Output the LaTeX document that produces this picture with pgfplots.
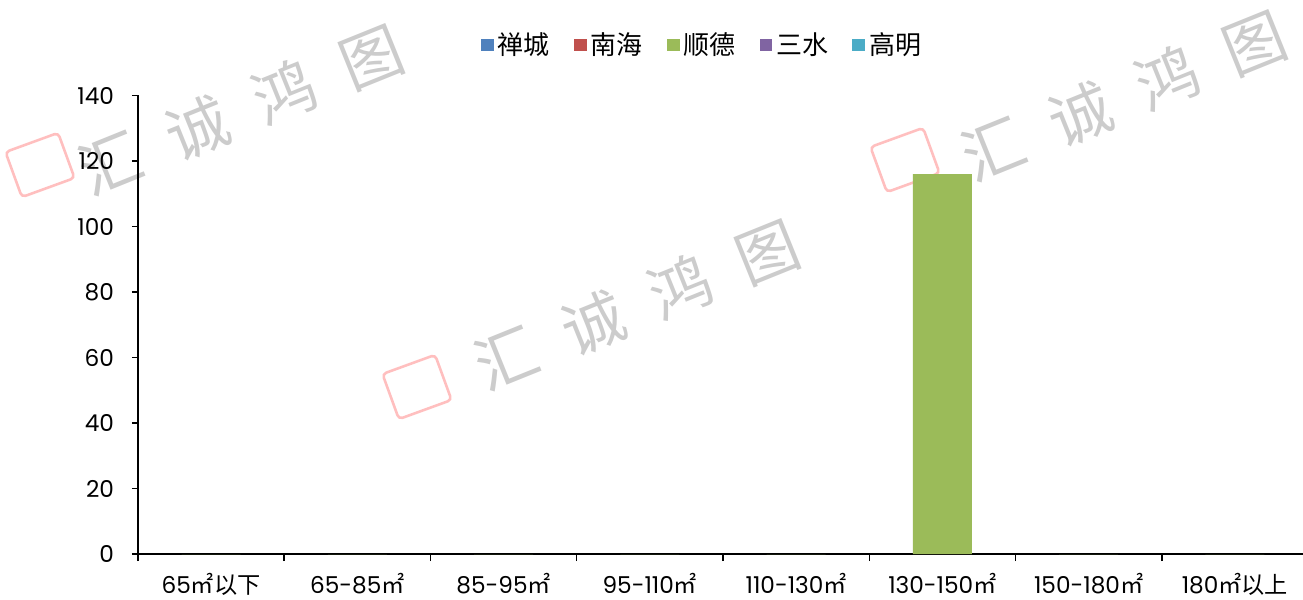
\documentclass[border=0pt]{standalone}
\usepackage{fontspec}
\setmainfont{Poppins}
\newfontfamily\cjk{Noto Sans CJK SC}
\usepackage{pgfplots}
\pgfplotsset{compat=1.18}
\definecolor{c1}{HTML}{4F81BD}
\definecolor{c2}{HTML}{C0504D}
\definecolor{c3}{HTML}{9BBB59}
\definecolor{c4}{HTML}{8064A2}
\definecolor{c5}{HTML}{4BACC6}
\newcommand\zh[1]{{\cjk #1}}
\pgfplotsset{sq/.style={legend image code/.code={\fill[##1] (0pt,-3.2pt) rectangle (6.4pt,3.2pt);}}}
\begin{document}
\begin{tikzpicture}
\path[use as bounding box] (-69pt,-23pt) rectangle (582.5pt,277pt);
% watermarks
\begin{scope}[every node/.style={text=black!20, font=\cjk\fontsize{31}{31}\selectfont, rotate=22, inner sep=0pt}]
\node at (249.5pt,124.5pt) {汇\hspace{16pt}诚\hspace{16pt}鸿\hspace{16pt}图};
\node at (51.5pt,222pt) {汇\hspace{16pt}诚\hspace{16pt}鸿\hspace{16pt}图};
\node at (493pt,229pt) {汇\hspace{16pt}诚\hspace{16pt}鸿\hspace{16pt}图};
\end{scope}
\foreach \lx/\ly in {139.5/83.5, -49/194.5, 383.5/197}{
  \draw[red!25, line width=1.3pt, rounded corners=2pt, rotate around={20:(\lx pt,\ly pt)}] (\lx pt-14pt,\ly pt-12pt) rectangle (\lx pt+14pt,\ly pt+12pt);
}
\begin{axis}[
  at={(0,0)}, anchor=south west,
  scale only axis, width=585pt, height=229.25pt,
  xmin=-0.5, xmax=7.5, ymin=0, ymax=140,
  axis lines*=left,
  axis line style={black, line width=0.75pt},
  xtick={0,...,7},
  xticklabels={65\zh{㎡以下}, 65-85\zh{㎡}, 85-95\zh{㎡}, 95-110\zh{㎡}, 110-130\zh{㎡}, 130-150\zh{㎡}, 150-180\zh{㎡}, 180\zh{㎡以上}},
  major x tick style={draw=none},
  minor xtick={-0.5,0.5,...,7.5},
  ytick={0,20,...,140},
  tick align=outside,
  major tick length=3pt, minor tick length=3.5pt,
  every tick/.style={black, line width=0.75pt},
  ticklabel style={font=\fontsize{11.6}{13}\selectfont},
  /pgf/number format/assume math mode=true,
  xticklabel style={anchor=base, yshift=-16.5pt, inner sep=0pt},
  yticklabel style={anchor=east, xshift=-5.5pt},
  legend style={at={(0.483,1.110)}, anchor=center, draw=none, fill=none,
    font=\cjk\fontsize{13}{15}\selectfont, legend columns=-1,
    /tikz/every even column/.append style={column sep=10pt}},
]
\addlegendimage{fill=c1, draw=none, sq}
\addlegendentry{禅城}
\addlegendimage{fill=c2, draw=none, sq}
\addlegendentry{南海}
\addplot[ybar, bar width=0.403, fill=c3, draw=none, sq] coordinates {(0,0) (1,0) (2,0) (3,0) (4,0) (5,116) (6,0) (7,0)};
\addlegendentry{顺德}
\addlegendimage{fill=c4, draw=none, sq}
\addlegendentry{三水}
\addlegendimage{fill=c5, draw=none, sq}
\addlegendentry{高明}
\end{axis}
\end{tikzpicture}
\end{document}
